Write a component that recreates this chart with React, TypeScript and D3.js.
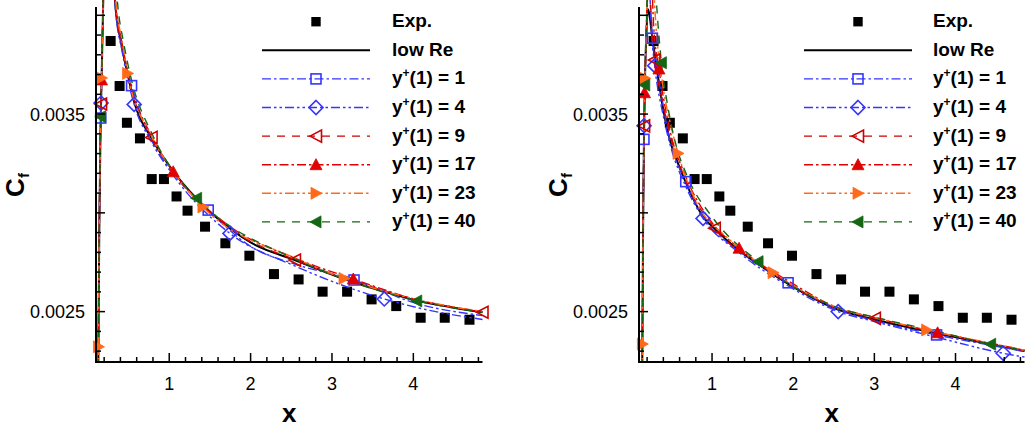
import React from "react";
import * as d3 from "d3";

// ---------- data ----------
const EXP_X = [0.28, 0.39, 0.48, 0.64, 0.785, 0.935, 1.09, 1.225, 1.44, 1.69, 1.985, 2.287, 2.59, 2.885, 3.186, 3.487, 3.79, 4.09, 4.386, 4.69];
const EXP_CF = [0.00387, 0.003642, 0.003456, 0.003377, 0.003171, 0.003171, 0.003083, 0.003011, 0.00293, 0.002846, 0.002783, 0.00269, 0.002663, 0.002601, 0.002601, 0.002562, 0.002528, 0.002469, 0.002469, 0.002459];

// left panel curves
const L_LOWRE = [[0.128,0.00222],[0.14,0.0029],[0.155,0.0034],[0.17,0.0037],[0.185,0.004],[0.21,0.0044],[0.25,0.0046],[0.3,0.0043],[0.34,0.00404],[0.4,0.00388],[0.49,0.0037],[0.57,0.00356],[0.78,0.00338],[1.05,0.00321],[1.34,0.00307],[1.75,0.00292],[2.0,0.00285],[2.55,0.00276],[3.15,0.002665],[3.65,0.0026],[4.05,0.002555],[4.5,0.00252],[4.85,0.002497]];
const L_Y1 = [[0.128,0.00222],[0.14,0.0029],[0.155,0.0034],[0.17,0.0037],[0.185,0.004],[0.21,0.0044],[0.25,0.0046],[0.3,0.0043],[0.34,0.00405],[0.42,0.00384],[0.537,0.003644],[0.78,0.00337],[1.05,0.0032],[1.479,0.003014],[2.0,0.00283],[2.55,0.00274],[3.271,0.00266],[4.05,0.00254],[4.85,0.00248]];
const L_Y4 = [[0.128,0.00222],[0.14,0.0029],[0.155,0.0034],[0.17,0.0037],[0.185,0.004],[0.21,0.0044],[0.25,0.0046],[0.3,0.0043],[0.34,0.00403],[0.42,0.00382],[0.569,0.003549],[0.78,0.00336],[1.05,0.00319],[1.746,0.002896],[2.55,0.00273],[3.643,0.002564],[4.05,0.00252],[4.85,0.00246]];
const L_Y9 = [[0.128,0.00222],[0.14,0.0029],[0.155,0.0034],[0.17,0.0037],[0.185,0.004],[0.21,0.0044],[0.25,0.0046],[0.3,0.0043],[0.34,0.00404],[0.42,0.00385],[0.49,0.0037],[0.783,0.003382],[1.05,0.00321],[1.75,0.00292],[2.545,0.002761],[3.15,0.00267],[4.05,0.00256],[4.85,0.002497]];
const L_Y17 = [[0.128,0.00222],[0.14,0.0029],[0.155,0.0034],[0.17,0.0037],[0.185,0.004],[0.21,0.0044],[0.25,0.0046],[0.3,0.0043],[0.345,0.00404],[0.42,0.00386],[0.49,0.00371],[0.78,0.00339],[1.049,0.003208],[1.75,0.00293],[2.55,0.00277],[3.262,0.002665],[4.05,0.00256],[4.85,0.0025]];
const L_Y23 = [[0.128,0.00222],[0.14,0.0029],[0.155,0.0034],[0.17,0.0037],[0.185,0.004],[0.21,0.0044],[0.25,0.0046],[0.3,0.0043],[0.35,0.00404],[0.42,0.00387],[0.488,0.003706],[0.78,0.00339],[1.05,0.00321],[1.414,0.00303],[2.55,0.00277],[3.148,0.002668],[4.05,0.00256],[4.85,0.0025]];
const L_Y40 = [[0.128,0.00222],[0.14,0.0029],[0.155,0.0034],[0.17,0.0037],[0.185,0.004],[0.21,0.0044],[0.26,0.0047],[0.32,0.0043],[0.37,0.00404],[0.44,0.00386],[0.52,0.0037],[0.8,0.00339],[1.05,0.00321],[1.337,0.003074],[2.55,0.002765],[3.15,0.002665],[4.042,0.002554],[4.85,0.002497]];

// left panel markers
const L_M_Y1 = [[0.158,0.00348],[0.537,0.003644],[1.479,0.003014],[3.271,0.00266]];
const L_M_Y4 = [[0.162,0.003556],[0.569,0.003549],[1.746,0.002896],[3.643,0.002564]];
const L_M_Y9 = [[0.162,0.003551],[0.783,0.003382],[2.545,0.002761],[4.85,0.002497]];
const L_M_Y17 = [[0.168,0.003673],[1.049,0.003208],[3.262,0.002665]];
const L_M_Y23 = [[0.13,0.002322],[0.169,0.003683],[0.488,0.003706],[1.414,0.00303],[3.148,0.002668]];
const L_M_Y40 = [[0.158,0.003487],[1.337,0.003074],[4.042,0.002554]];

// right panel curves
const R_LOWRE = [[0.14,0.00222],[0.15,0.0029],[0.162,0.0034],[0.175,0.0037],[0.19,0.0039],[0.21,0.00403],[0.225,0.00401],[0.26,0.0039],[0.33,0.0037],[0.4,0.00352],[0.48,0.003369],[0.58,0.00325],[0.68,0.00315],[0.89,0.00298],[1.03,0.00292],[1.33,0.00281],[1.57,0.00274],[1.75,0.00269],[1.94,0.00264],[2.55,0.00251],[3.0,0.00246],[3.65,0.0024],[4.43,0.002335],[4.85,0.0023]];
const R_Y1 = [[0.14,0.00222],[0.15,0.0029],[0.162,0.0034],[0.175,0.0037],[0.19,0.0039],[0.205,0.0041],[0.225,0.00414],[0.245,0.00401],[0.265,0.003884],[0.33,0.00371],[0.48,0.00337],[0.676,0.003158],[0.89,0.00298],[1.33,0.00281],[1.937,0.002646],[2.55,0.00251],[3.0,0.002455],[3.767,0.002382],[4.43,0.00233],[4.85,0.002298]];
const R_Y4 = [[0.14,0.00222],[0.15,0.0029],[0.162,0.0034],[0.175,0.0037],[0.19,0.0039],[0.205,0.0041],[0.23,0.0041],[0.26,0.00388],[0.293,0.003745],[0.4,0.00349],[0.48,0.00335],[0.68,0.00313],[0.889,0.002972],[1.33,0.0028],[1.94,0.00263],[2.554,0.0025],[3.0,0.00245],[3.77,0.00237],[4.588,0.002289],[4.85,0.00227]];
const R_Y9 = [[0.14,0.00222],[0.15,0.0029],[0.162,0.0034],[0.175,0.0037],[0.19,0.0039],[0.22,0.0042],[0.25,0.004],[0.29,0.003774],[0.36,0.00362],[0.48,0.0034],[0.68,0.00316],[1.033,0.002922],[1.57,0.002745],[2.55,0.002515],[3.006,0.002466],[3.77,0.002395],[4.43,0.002338],[4.85,0.002302]];
const R_Y17 = [[0.14,0.00222],[0.15,0.0029],[0.162,0.0034],[0.175,0.0037],[0.19,0.0039],[0.205,0.0042],[0.24,0.0043],[0.28,0.00395],[0.346,0.003728],[0.48,0.00342],[0.68,0.00318],[1.0,0.00295],[1.333,0.002821],[1.94,0.002655],[2.55,0.00252],[3.0,0.00247],[3.779,0.002393],[4.43,0.00234],[4.85,0.002305]];
const R_Y23 = [[0.14,0.00222],[0.15,0.0029],[0.162,0.0034],[0.175,0.0037],[0.19,0.0039],[0.21,0.0043],[0.25,0.0044],[0.3,0.004],[0.4,0.00363],[0.5,0.00343],[0.581,0.003301],[0.8,0.00306],[1.2,0.00287],[1.752,0.002697],[2.55,0.00252],[3.0,0.00247],[3.644,0.002407],[4.43,0.00234],[4.85,0.002305]];
const R_Y40 = [[0.14,0.00222],[0.15,0.0029],[0.162,0.0034],[0.175,0.0037],[0.19,0.0039],[0.21,0.0043],[0.26,0.0045],[0.31,0.0041],[0.376,0.00376],[0.45,0.00355],[0.54,0.003369],[0.7,0.00318],[1.0,0.00298],[1.567,0.002753],[2.55,0.00252],[3.0,0.002472],[3.77,0.0024],[4.433,0.002335],[4.85,0.002305]];

// right panel markers
const R_M_Y1 = [[0.161,0.003372],[0.265,0.003884],[0.676,0.003158],[1.937,0.002646],[3.767,0.002382]];
const R_M_Y4 = [[0.163,0.003441],[0.293,0.003745],[0.889,0.002972],[2.554,0.0025],[4.588,0.002289]];
const R_M_Y9 = [[0.163,0.00344],[0.29,0.003774],[1.033,0.002922],[3.006,0.002466]];
const R_M_Y17 = [[0.168,0.003608],[0.346,0.003728],[1.333,0.002821],[3.779,0.002393]];
const R_M_Y23 = [[0.1417,0.002336],[0.172,0.003681],[0.581,0.003301],[1.752,0.002697],[3.644,0.002407]];
const R_M_Y40 = [[0.171,0.003647],[0.376,0.00376],[1.567,0.002753],[4.433,0.002335]];

const LEGEND_LABELS = ["Exp.", "low Re", "1", "4", "9", "17", "23", "40"];
const X_MAJOR = [1, 2, 3, 4];
const Y_LABELED = [0.0025, 0.0035];
const Y_LABEL_TEXT = ["0.0025", "0.0035"];

// ---------- styles ----------
const STYLES = [
  { color: "#000000", dash: null, marker: null, width: 2 },
  { color: "#3535ff", dash: "9 3 2.5 3", marker: "square", width: 1.4 },
  { color: "#3535ff", dash: "9 3 2.5 3 2.5 3", marker: "diamond", width: 1.4 },
  { color: "#cc0000", dash: "8 7", marker: "triLeftOpen", width: 1.4 },
  { color: "#e00000", dash: "9 3 2.5 3", marker: "triUp", width: 1.4 },
  { color: "#ff6a1a", dash: "9 3 2.5 3 2.5 3", marker: "triRight", width: 1.5 },
  { color: "#146614", dash: "8 7", marker: "triLeft", width: 1.4 },
];

const LEFT_LINES = [L_LOWRE, L_Y1, L_Y4, L_Y9, L_Y17, L_Y23, L_Y40];
const LEFT_MARKS = [[], L_M_Y1, L_M_Y4, L_M_Y9, L_M_Y17, L_M_Y23, L_M_Y40];
const RIGHT_LINES = [R_LOWRE, R_Y1, R_Y4, R_Y9, R_Y17, R_Y23, R_Y40];
const RIGHT_MARKS = [[], R_M_Y1, R_M_Y4, R_M_Y9, R_M_Y17, R_M_Y23, R_M_Y40];

const FONT = "'Liberation Sans', Arial, Helvetica, sans-serif";

function Marker({ type, cx, cy, color }: { type: string; cx: number; cy: number; color: string }) {
  const sw = 1.6;
  if (type === "square")
    return <rect x={cx - 5} y={cy - 5} width={10} height={10} fill="none" stroke={color} strokeWidth={sw} />;
  if (type === "diamond")
    return <path d={`M${cx},${cy - 7}L${cx + 7},${cy}L${cx},${cy + 7}L${cx - 7},${cy}Z`} fill="none" stroke={color} strokeWidth={sw} />;
  if (type === "triLeftOpen")
    return <path d={`M${cx - 6},${cy}L${cx + 5.5},${cy - 6}L${cx + 5.5},${cy + 6}Z`} fill="none" stroke={color} strokeWidth={sw} />;
  if (type === "triUp")
    return <path d={`M${cx},${cy - 6}L${cx + 6},${cy + 5}L${cx - 6},${cy + 5}Z`} fill={color} stroke={color} strokeWidth={0.8} />;
  if (type === "triRight")
    return <path d={`M${cx + 6},${cy}L${cx - 5},${cy - 6}L${cx - 5},${cy + 6}Z`} fill={color} stroke={color} strokeWidth={0.8} />;
  if (type === "triLeft")
    return <path d={`M${cx - 6},${cy}L${cx + 5},${cy - 6}L${cx + 5},${cy + 6}Z`} fill={color} stroke={color} strokeWidth={0.8} />;
  return null;
}

function Panel({ id, x0, x1, lines, marks, legendSym, legendText }: any) {
  const top = 7, bottom = 362;
  const xs = d3.scaleLinear().domain([0.1, 4.85]).range([x0, x1]);
  const ys = d3.scaleLinear().domain([0.002245, 0.004042]).range([bottom, top]);
  const lineGen = d3.line<number[]>().x((d) => xs(d[0])).y((d) => ys(d[1])).curve(d3.curveMonotoneX);
  const xMinor = d3.range(0.2, 4.81, 0.2);
  const yMinor = d3.range(0.0023, 0.00405, 0.0001);
  const isMajorY = (v: number) => Math.abs(Math.round(v / 0.0005) * 0.0005 - v) < 1e-9;
  const legendY = (i: number) => 21.7 + i * 28.6;
  const lx0 = legendSym - 54, lx1 = legendSym + 54;
  return (
    <g>
      <defs>
        <clipPath id={id}>
          <rect x={x0 + 1} y={0} width={x1 - x0 + 5} height={bottom - 1} />
        </clipPath>
      </defs>
      {EXP_X.map((x, i) => (
        <rect key={"e" + i} x={xs(x) - 5} y={ys(EXP_CF[i]) - 5} width={10} height={10} fill="#000" />
      ))}
      <g clipPath={`url(#${id})`}>
        {lines.map((pts: number[][], i: number) => (
          <path key={"l" + i} d={lineGen(pts) || ""} fill="none" stroke={STYLES[i].color}
            strokeWidth={STYLES[i].width} strokeDasharray={STYLES[i].dash || undefined} />
        ))}
      </g>
      {marks.map((m: number[][], i: number) =>
        m.map((p, j) => (
          <Marker key={"m" + i + "-" + j} type={STYLES[i].marker as string} cx={xs(p[0])} cy={ys(p[1])} color={STYLES[i].color} />
        ))
      )}
      <line x1={x0} x2={x0} y1={top} y2={bottom + 1} stroke="#000" strokeWidth={2} />
      <line x1={x0 - 1} x2={x1} y1={bottom} y2={bottom} stroke="#000" strokeWidth={2} />
      {yMinor.map((v, i) => (
        <line key={"yt" + i} x1={x0} x2={x0 + (isMajorY(v) ? 9 : 5)} y1={ys(v)} y2={ys(v)} stroke="#000" strokeWidth={1.5} />
      ))}
      {xMinor.map((v, i) => (
        <line key={"xt" + i} x1={xs(v)} x2={xs(v)} y1={bottom} y2={bottom - (Math.abs(v - Math.round(v)) < 1e-6 ? 9 : 5)} stroke="#000" strokeWidth={1.5} />
      ))}
      {X_MAJOR.map((v) => (
        <text key={"xl" + v} x={xs(v)} y={389.5} textAnchor="middle" fontSize={18} fontFamily={FONT} fill="#000">{v}</text>
      ))}
      {Y_LABELED.map((v, i) => (
        <text key={"yl" + i} x={x0 - 11} y={ys(v) + 6.5} textAnchor="end" fontSize={18} fontFamily={FONT} fill="#000">{Y_LABEL_TEXT[i]}</text>
      ))}
      <text x={(x0 + x1) / 2} y={422} textAnchor="middle" fontSize={26} fontWeight="bold" fontFamily={FONT}>x</text>
      <text transform={`translate(${x0 - 72},${185}) rotate(-90)`} textAnchor="middle" fontSize={26} fontWeight="bold" fontFamily={FONT}>
        C<tspan fontSize={15} dy={5}>f</tspan>
      </text>
      {LEGEND_LABELS.map((lab, i) => {
        const y = legendY(i);
        const st = i === 0 ? null : STYLES[i - 1];
        return (
          <g key={"lg" + i}>
            {i === 0 ? (
              <rect x={legendSym - 4.7} y={y - 4.7} width={9.4} height={9.4} fill="#000" />
            ) : (
              <>
                <line x1={lx0} x2={lx1} y1={y} y2={y} stroke={st!.color} strokeWidth={st!.width} strokeDasharray={st!.dash || undefined} />
                {st!.marker && <Marker type={st!.marker} cx={legendSym} cy={y} color={st!.color} />}
              </>
            )}
            <text x={legendText} y={y + 5.5} fontSize={19} fontWeight="bold" fontFamily={FONT} fill="#000">
              {i < 2 ? lab : (
                <>
                  y<tspan fontSize={12} dy={-7}>+</tspan><tspan dy={7}>{"(1) = " + lab}</tspan>
                </>
              )}
            </text>
          </g>
        );
      })}
    </g>
  );
}

export default function App() {
  return (
    <svg width={1025} height={428} style={{ position: "absolute", left: 0, top: 0, background: "#fff" }}>
      <rect width={1025} height={428} fill="#fff" />
      <Panel id="clipL" x0={96} x1={482.5} lines={LEFT_LINES} marks={LEFT_MARKS} legendSym={316} legendText={392} />
      <Panel id="clipR" x0={639} x1={1024.5} lines={RIGHT_LINES} marks={RIGHT_MARKS} legendSym={858} legendText={933} />
    </svg>
  );
}
